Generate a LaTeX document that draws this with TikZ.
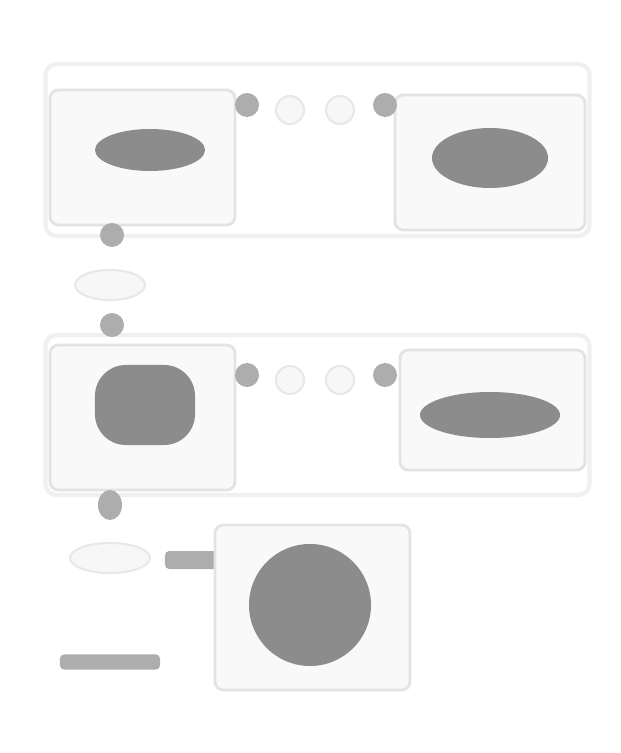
\documentclass[tikz,border=0pt]{standalone}
\usepackage{tikz}
\usetikzlibrary{positioning, shapes.geometric}
\tikzstyle{fPanel} = [rectangle, rounded corners=6pt, draw=gray!22, line width=2pt, fill=gray!5]
\tikzstyle{fBand} = [rectangle, rounded corners=8pt, draw=gray!12, line width=3pt]
\tikzstyle{fBlob} = [ellipse, fill=black!45, draw=none]
\tikzstyle{fDot} = [circle, minimum size=0.6cm, fill=black!32, draw=none]
\tikzstyle{fRing} = [circle, minimum size=0.7cm, fill=gray!6, draw=gray!18, line width=1.5pt]
\tikzstyle{fBar} = [rectangle, rounded corners=3pt, fill=black!32, draw=none]

\begin{document}
\begin{tikzpicture}[x=0.025cm, y=-0.025cm]
    \useasboundingbox (0,0) rectangle (620,753);
    % outer bands of the two rows
    \node (bandtop) [fBand, minimum width=13.6cm, minimum height=4.3cm] at (317.5,150) {};
    \node (bandmid) [fBand, minimum width=13.6cm, minimum height=4.0cm] at (317.5,415) {};

    % top row
    \node (paneltl) [fPanel, minimum width=4.625cm, minimum height=3.375cm] at (142.5,157.5) {};
    \node (blobtl) [fBlob, minimum width=2.75cm, minimum height=1.05cm] at (150,150) {};
    \node (paneltr) [fPanel, minimum width=4.75cm, minimum height=3.375cm] at (490,162.5) {};
    \node (blobtr) [fBlob, minimum width=2.9cm, minimum height=1.5cm] at (490,158) {};
    \node (dottl) [fDot] at (247,105) {};
    \node (ringta) [fRing] at (290,110) {};
    \node (ringtb) [fRing] at (340,110) {};
    \node (dottr) [fDot] at (385,105) {};

    % between the rows
    \node (dotup) [fDot] at (112,235) {};
    \node (ringup) [fRing, ellipse, minimum width=1.75cm, minimum height=0.75cm] at (110,285) {};
    \node (dotdown) [fDot] at (112,325) {};

    % middle row
    \node (panelml) [fPanel, minimum width=4.625cm, minimum height=3.625cm] at (142.5,417.5) {};
    \node (blobml) [fBlob, rectangle, rounded corners=22pt, minimum width=2.5cm, minimum height=2.0cm] at (145,405) {};
    \node (panelmr) [fPanel, minimum width=4.625cm, minimum height=3.0cm] at (492.5,410) {};
    \node (blobmr) [fBlob, minimum width=3.5cm, minimum height=1.15cm] at (490,415) {};
    \node (dotml) [fDot] at (247,375) {};
    \node (ringma) [fRing] at (290,380) {};
    \node (ringmb) [fRing] at (340,380) {};
    \node (dotmr) [fDot] at (385,375) {};

    % bottom row
    \node (dotlow) [fDot, ellipse, minimum width=0.6cm, minimum height=0.75cm] at (110,505) {};
    \node (ringlow) [fRing, ellipse, minimum width=2.0cm, minimum height=0.75cm] at (110,558) {};
    \node (barlow) [fBar, minimum width=1.5cm, minimum height=0.45cm] at (195,560) {};
    \node (panelbm) [fPanel, minimum width=4.875cm, minimum height=4.125cm] at (312.5,607.5) {};
    \node (blobbm) [fBlob, circle, minimum size=3.05cm] at (310,605) {};
    \node (barfoot) [fBar, minimum width=2.5cm, minimum height=0.38cm] at (110,662) {};
\end{tikzpicture}
\end{document}
